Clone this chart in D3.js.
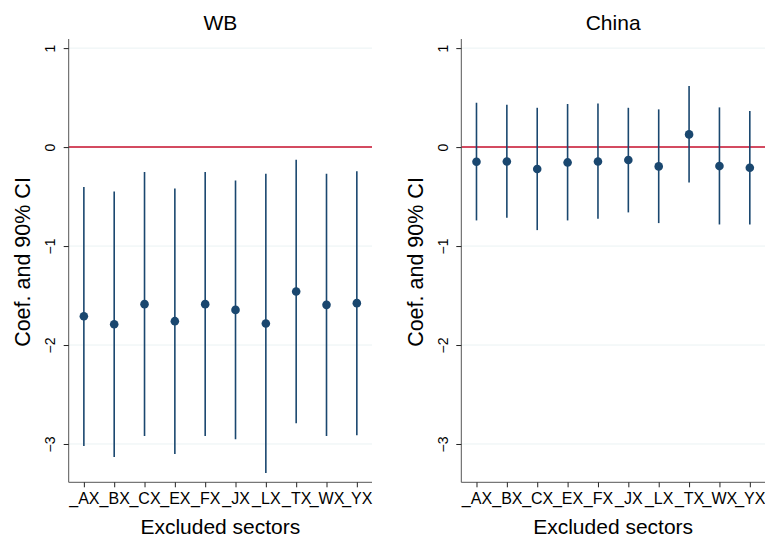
<!DOCTYPE html>
<html><head><meta charset="utf-8">
<script src="https://cdn.jsdelivr.net/npm/d3@7"></script>
<style>body{margin:0;background:#fff}svg{display:block}text{font-family:"Liberation Sans",Arial,sans-serif;fill:#000}</style>
</head><body><svg id="c" width="765" height="539"></svg>
<script>
const categories = ["_AX","_BX","_CX","_EX","_FX","_JX","_LX","_TX","_WX","_YX"];
const wbCoef  = [-1.709,-1.790,-1.587,-1.759,-1.587,-1.645,-1.783,-1.459,-1.594,-1.577];
const wbLow   = [-3.020,-3.131,-2.919,-3.100,-2.919,-2.952,-3.293,-2.790,-2.919,-2.912];
const wbHigh  = [-0.404,-0.448,-0.253,-0.418,-0.253,-0.337,-0.270,-0.128,-0.270,-0.243];
const cnCoef  = [-0.148,-0.145,-0.222,-0.155,-0.145,-0.131,-0.195,0.128,-0.192,-0.209];
const cnLow   = [-0.741,-0.715,-0.839,-0.741,-0.725,-0.660,-0.768,-0.357,-0.782,-0.782];
const cnHigh  = [0.448,0.428,0.397,0.435,0.441,0.397,0.381,0.617,0.401,0.364];
const yTicks  = [1,0,-1,-2,-3];
const yDomain = [-3.387,1.092];

(function(){
const panels = [
  {title:"WB", coef:wbCoef, low:wbLow, high:wbHigh, x0:68.7, x1:372},
  {title:"China", coef:cnCoef, low:cnLow, high:cnHigh, x0:461.3, x1:765}
];
const svg = d3.select("#c");
const yTop = 39, yBot = 482.3;
const navy = "#1a476f";
const ff = '"Liberation Sans",Arial,sans-serif';

panels.forEach(p => {
  const g = svg.append("g");
  const x = d3.scalePoint().domain(categories).range([p.x0, p.x1]).padding(0.5);
  const y = d3.scaleLinear().domain(yDomain).range([yBot, yTop]);
  g.selectAll(".grid").data(yTicks).enter().append("line")
    .attr("x1", p.x0).attr("x2", p.x1)
    .attr("y1", d => y(d)).attr("y2", d => y(d))
    .attr("stroke", "#eaf2f3").attr("stroke-width", 1);
  g.append("line").attr("x1", p.x0).attr("x2", p.x1)
    .attr("y1", y(0)).attr("y2", y(0))
    .attr("stroke", "#c8102e").attr("stroke-width", 1.5);
  g.selectAll(".ci").data(categories).enter().append("line")
    .attr("x1", d => x(d)).attr("x2", d => x(d))
    .attr("y1", (d,i) => y(p.low[i])).attr("y2", (d,i) => y(p.high[i]))
    .attr("stroke", navy).attr("stroke-width", 1.6);
  g.selectAll(".pt").data(categories).enter().append("circle")
    .attr("cx", d => x(d)).attr("cy", (d,i) => y(p.coef[i]))
    .attr("r", 4.3).attr("fill", navy);
  const ya = g.append("g").attr("transform", `translate(${p.x0},0)`)
    .call(d3.axisLeft(y).tickValues(yTicks).tickFormat(d3.format("d")).tickSize(5).tickPadding(0));
  ya.select(".domain").attr("stroke", "#555").attr("d", `M0,${yTop}V${yBot}`);
  ya.selectAll(".tick line").attr("stroke", "#222");
  ya.selectAll(".tick text").attr("transform", "translate(-13.7,0) rotate(-90)")
    .attr("text-anchor", "middle").attr("dy", "0").attr("x", 0).attr("y", 0)
    .style("font-size", "14px").style("font-family", ff);
  const xa = g.append("g").attr("transform", `translate(0,${yBot})`)
    .call(d3.axisBottom(x).tickSize(5));
  xa.select(".domain").attr("stroke", "#555").attr("d", `M${p.x0},0H${p.x1}`);
  xa.selectAll(".tick line").attr("stroke", "#222");
  xa.selectAll(".tick text").attr("y", 21.7).attr("dy", "0")
    .style("font-size", "16px").style("font-family", ff);
  const cx = (p.x0 + p.x1) / 2;
  svg.append("text").attr("x", cx).attr("y", 30).attr("text-anchor", "middle")
    .style("font-size", "21px").text(p.title);
  svg.append("text").attr("x", cx).attr("y", 534).attr("text-anchor", "middle")
    .style("font-size", "21px").text("Excluded sectors");
  svg.append("text").attr("transform", `translate(${p.x0 - 38.5},262) rotate(-90)`)
    .attr("text-anchor", "middle").style("font-size", "21.5px").text("Coef. and 90% CI");
});
})();
</script></body></html>
